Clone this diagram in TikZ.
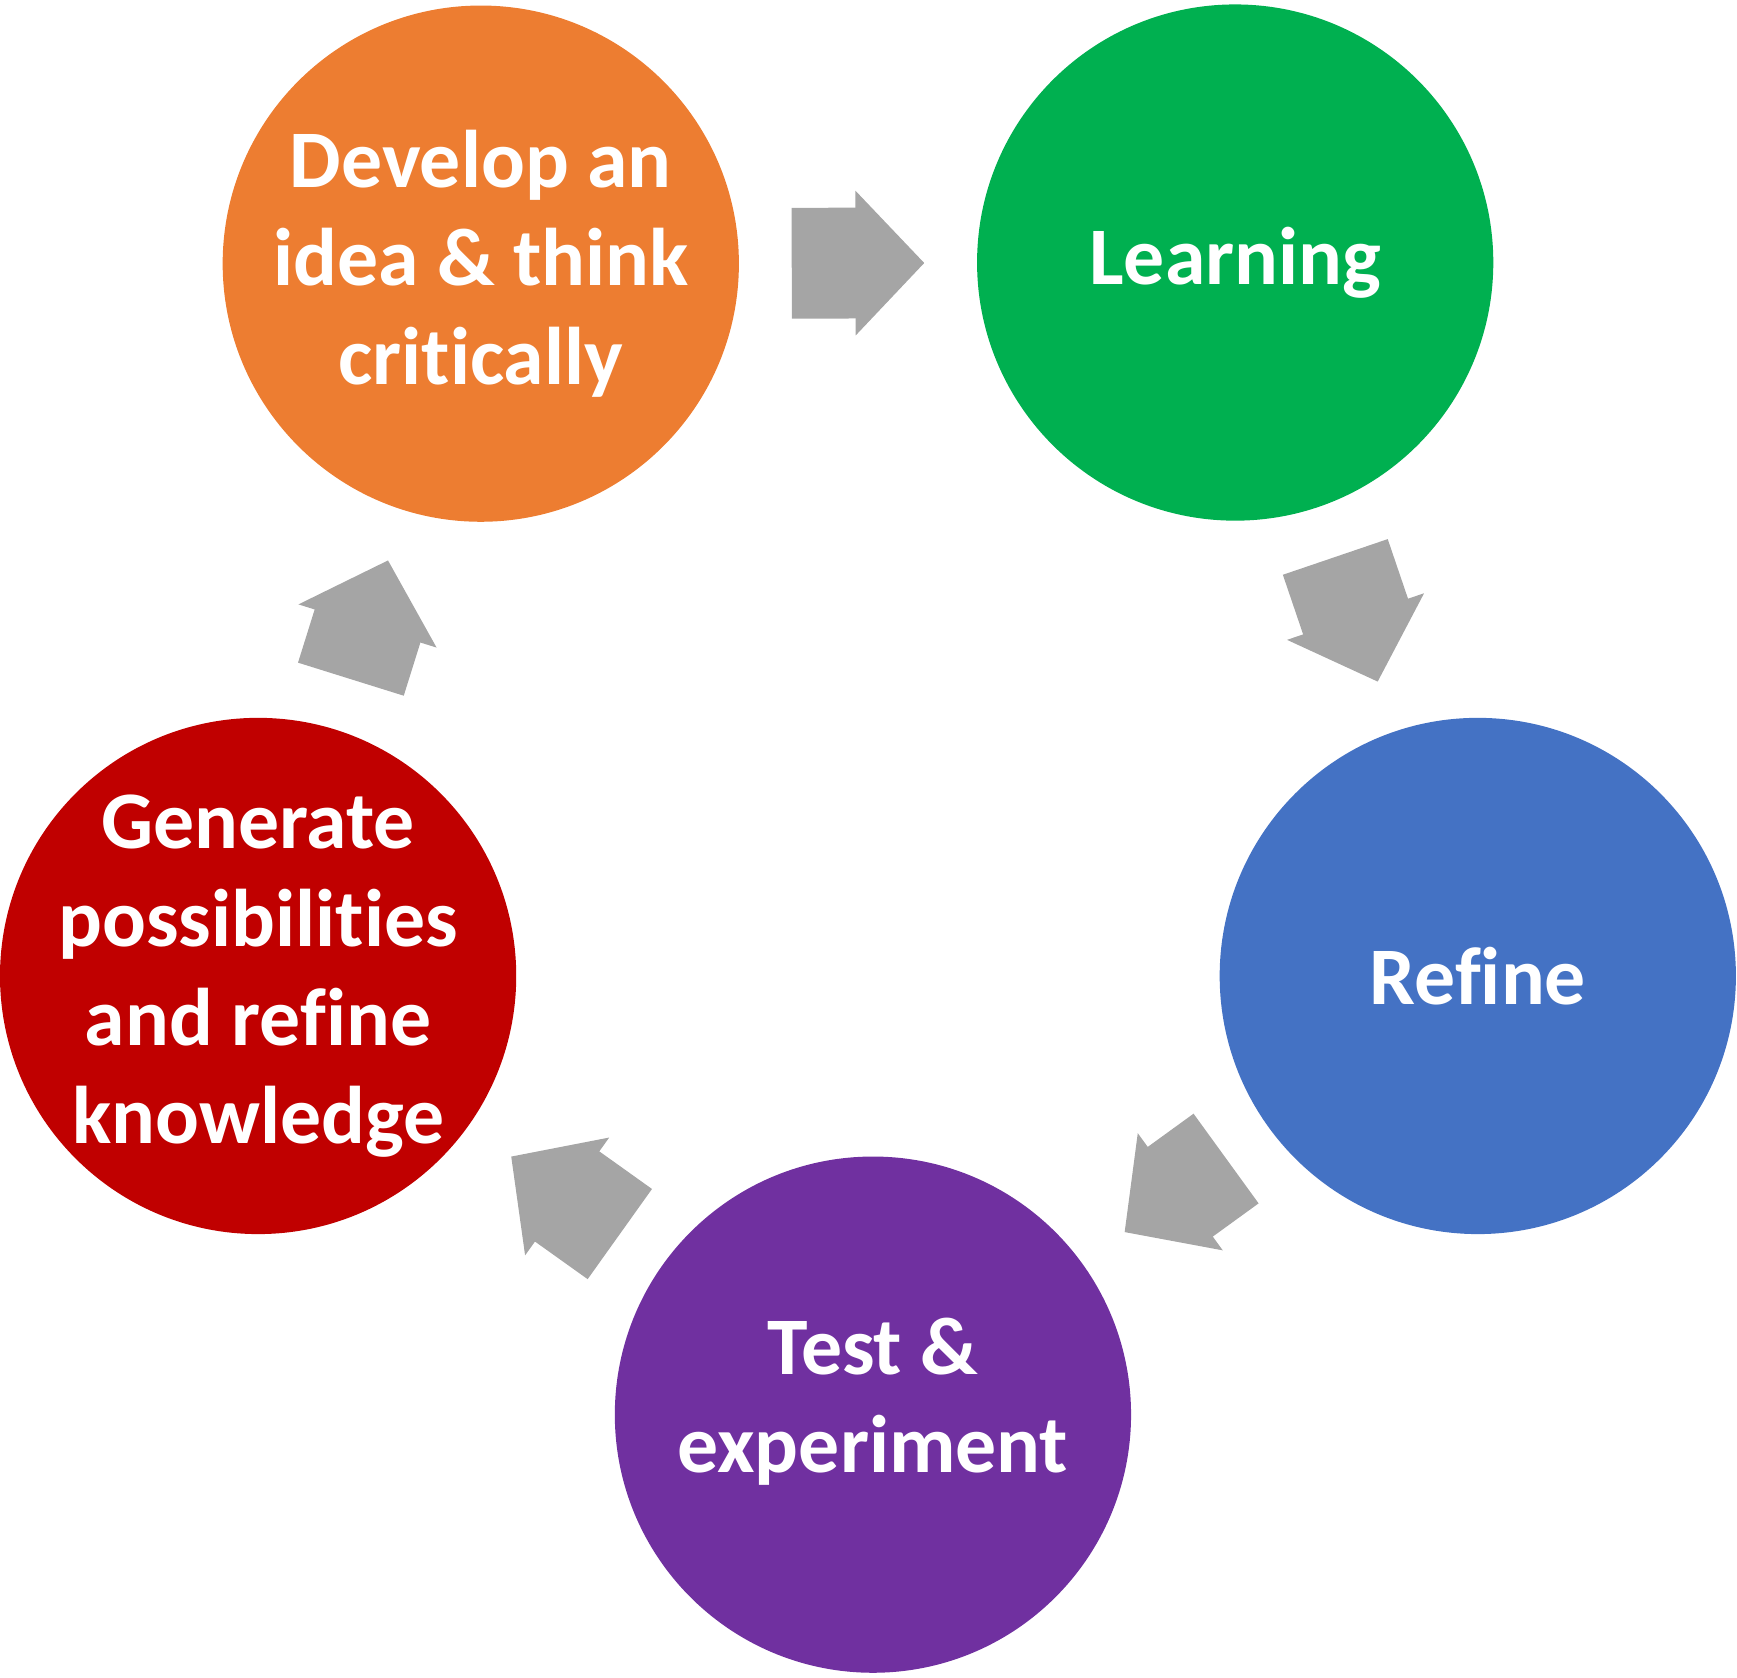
\documentclass[tikz,border=0pt]{standalone}
\usepackage{fontspec}
\setmainfont{Carlito}[Ligatures=NoCommon]
\usetikzlibrary{arrows.meta}

\definecolor{ideaorange}{HTML}{ED7D31}
\definecolor{ideagreen}{HTML}{00B050}
\definecolor{ideablue}{HTML}{4472C4}
\definecolor{ideapurple}{HTML}{7030A0}
\definecolor{ideared}{HTML}{C00000}
\definecolor{flowgray}{HTML}{A5A5A5}

\begin{document}
\begin{tikzpicture}[
	stage/.style = {circle, minimum size=4.66cm, inner sep=-0.8cm, text=white,
		align=center, font=\bfseries\fontsize{21}{25.3}\selectfont},
	flow/.style = {draw=flowgray, line width=1cm,
		-{Triangle[width=1.3cm, length=0.62cm, line width=1pt]},
		shorten >=0.47cm, shorten <=0.47cm}
	]
	\useasboundingbox (0,0) rectangle (15.68,15.14);
	\node[stage, fill=ideaorange] (develop) at (4.34,12.76) {Develop an\\idea \& think\\critically};
	\node[stage, fill=ideagreen] (learn) at (11.15,12.77) {Learning};
	\node[stage, fill=ideablue] (refine) at (13.34,6.33) {Refine};
	\node[stage, fill=ideapurple, text depth=0.35cm] (test) at (7.88,2.37) {Test \&\\experiment};
	\node[stage, fill=ideared] (generate) at (2.33,6.33) {Generate\\possibilities\\and refine\\knowledge};
	% the cycle
	\draw[flow] (develop) -- (learn);
	\draw[flow] (learn) -- (refine);
	\draw[flow] (refine) -- (test);
	\draw[flow] (test) -- (generate);
	\draw[flow] (generate) -- (develop);
\end{tikzpicture}
\end{document}
